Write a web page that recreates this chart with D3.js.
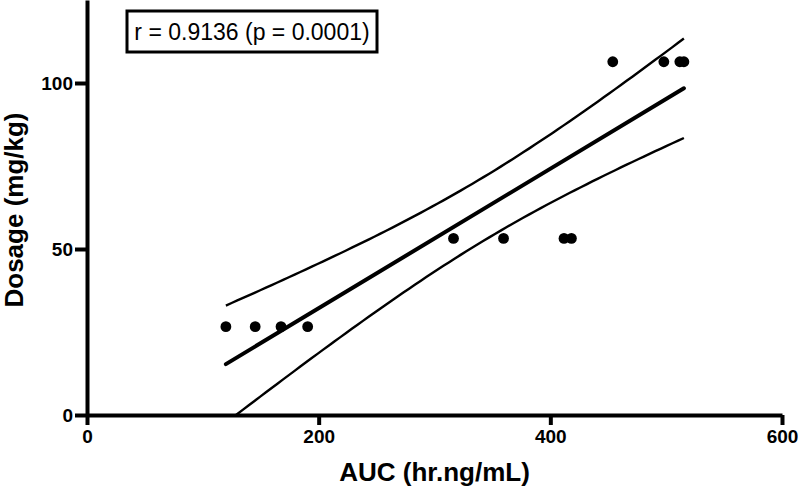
<!DOCTYPE html>
<html>
<head>
<meta charset="utf-8">
<script src="https://cdn.jsdelivr.net/npm/d3@7"></script>
<style>
    html, body { margin: 0; padding: 0; background: #fff; }
    svg { display: block; font-family: "Liberation Sans", Arial, sans-serif; }
</style>
</head>
<body>
<main></main>
<script>
    'use strict';

    // AUC (hr.ng/mL) against dosage (mg/kg)
    var auc    = [119.9, 145.2, 167.5, 190.5, 316.4, 359.6, 411.8, 418.2, 453.9, 498.0, 511.8, 515.3];
    var dosage = [26.6, 26.6, 26.6, 26.6, 53.2, 53.2, 53.2, 53.2, 106.4, 106.4, 106.4, 106.4];
    var x_ticks = [0, 200, 400, 600];
    var y_ticks = [0, 50, 100];
    var stat_label = 'r = 0.9136 (p = 0.0001)';
    var t_crit = 2.228;  // t(0.975, df = 10)

    var width = 800, height = 493;
    var pad = {top: 0, left: 87, right: 18, bottom: 78};
    var panel_w = width - pad.left - pad.right;
    var panel_h = height - pad.top - pad.bottom;

    var svg = d3.select('main').append('svg')
        .attr('width', width)
        .attr('height', height);

    var scale_x = d3.scaleLinear().domain([0, 600]).range([0, panel_w]);
    var scale_y = d3.scaleLinear().domain([0, 125]).range([panel_h, 0]);

    var plot = svg.append('g')
        .attr('transform', 'translate(' + pad.left + ',' + pad.top + ')');

    plot.append('clipPath').attr('id', 'clip')
        .append('rect')
        .attr('x', 0).attr('y', 0)
        .attr('width', panel_w).attr('height', panel_h);

    // least squares fit with 95% confidence band
    var n = auc.length;
    var mx = d3.mean(auc), my = d3.mean(dosage);
    var sxx = d3.sum(auc, function(x) {return (x - mx) * (x - mx);});
    var sxy = d3.sum(auc, function(x, i) {return (x - mx) * (dosage[i] - my);});
    var slope = sxy / sxx;
    var icpt = my - slope * mx;
    var sse = d3.sum(auc, function(x, i) {
        var e = dosage[i] - (icpt + slope * x);
        return e * e;
    });
    var se = Math.sqrt(sse / (n - 2));
    var x_lo = d3.min(auc), x_hi = d3.max(auc);
    var grid = d3.range(0, 81).map(function(k) {return x_lo + (x_hi - x_lo) * k / 80;});
    function half(x) {
        return t_crit * se * Math.sqrt(1 / n + (x - mx) * (x - mx) / sxx);
    }

    var line = d3.line()
        .x(function(d) {return scale_x(d[0]);})
        .y(function(d) {return scale_y(d[1]);});

    var fits = plot.append('g').attr('clip-path', 'url(#clip)')
        .attr('fill', 'none').attr('stroke', '#000');
    fits.append('path')
        .attr('stroke-width', 2.4)
        .attr('d', line(grid.map(function(x) {return [x, icpt + slope * x + half(x)];})));
    fits.append('path')
        .attr('stroke-width', 2.4)
        .attr('d', line(grid.map(function(x) {return [x, icpt + slope * x - half(x)];})));
    fits.append('path')
        .attr('stroke-width', 4)
        .attr('stroke-linecap', 'round')
        .attr('d', line([[x_lo, icpt + slope * x_lo], [x_hi, icpt + slope * x_hi]]));

    plot.append('g').selectAll('circle')
        .data(auc)
        .enter()
        .append('circle')
        .attr('cx', function(d) {return scale_x(d);})
        .attr('cy', function(d, i) {return scale_y(dosage[i]);})
        .attr('r', 5.4)
        .attr('fill', '#000');

    // axes
    var axis_x = plot.append('g')
        .attr('transform', 'translate(0,' + panel_h + ')')
        .call(d3.axisBottom(scale_x).tickValues(x_ticks).tickSize(10).tickSizeOuter(0).tickPadding(5));
    var axis_y = plot.append('g')
        .call(d3.axisLeft(scale_y).tickValues(y_ticks).tickSize(12).tickSizeOuter(0).tickPadding(2));
    [axis_x, axis_y].forEach(function(a) {
        a.select('.domain').attr('stroke-width', 4);
        a.selectAll('.tick line').attr('stroke-width', 4);
        a.selectAll('.tick text')
            .attr('font-family', '"Liberation Sans", Arial, sans-serif')
            .attr('font-weight', 'bold')
            .attr('font-size', 19)
            .attr('fill', '#000');
    });
    axis_y.selectAll('.tick text').attr('dy', '0.36em');

    plot.append('text')
        .attr('text-anchor', 'middle')
        .attr('x', panel_w / 2)
        .attr('y', panel_h + 66)
        .attr('font-weight', 'bold')
        .attr('font-size', 26)
        .text('AUC (hr.ng/mL)');
    plot.append('text')
        .attr('text-anchor', 'middle')
        .attr('transform', 'translate(-64,' + 210 + ') rotate(-90)')
        .attr('font-weight', 'bold')
        .attr('font-size', 26)
        .text('Dosage (mg/kg)');

    // correlation box
    var box = svg.append('g');
    box.append('rect')
        .attr('x', 127).attr('y', 11)
        .attr('width', 250).attr('height', 41)
        .attr('fill', '#fff')
        .attr('stroke', '#000')
        .attr('stroke-width', 3);
    box.append('text')
        .attr('x', 252).attr('y', 39.5)
        .attr('text-anchor', 'middle')
        .attr('font-size', 23)
        .text(stat_label);
</script>
</body>
</html>
